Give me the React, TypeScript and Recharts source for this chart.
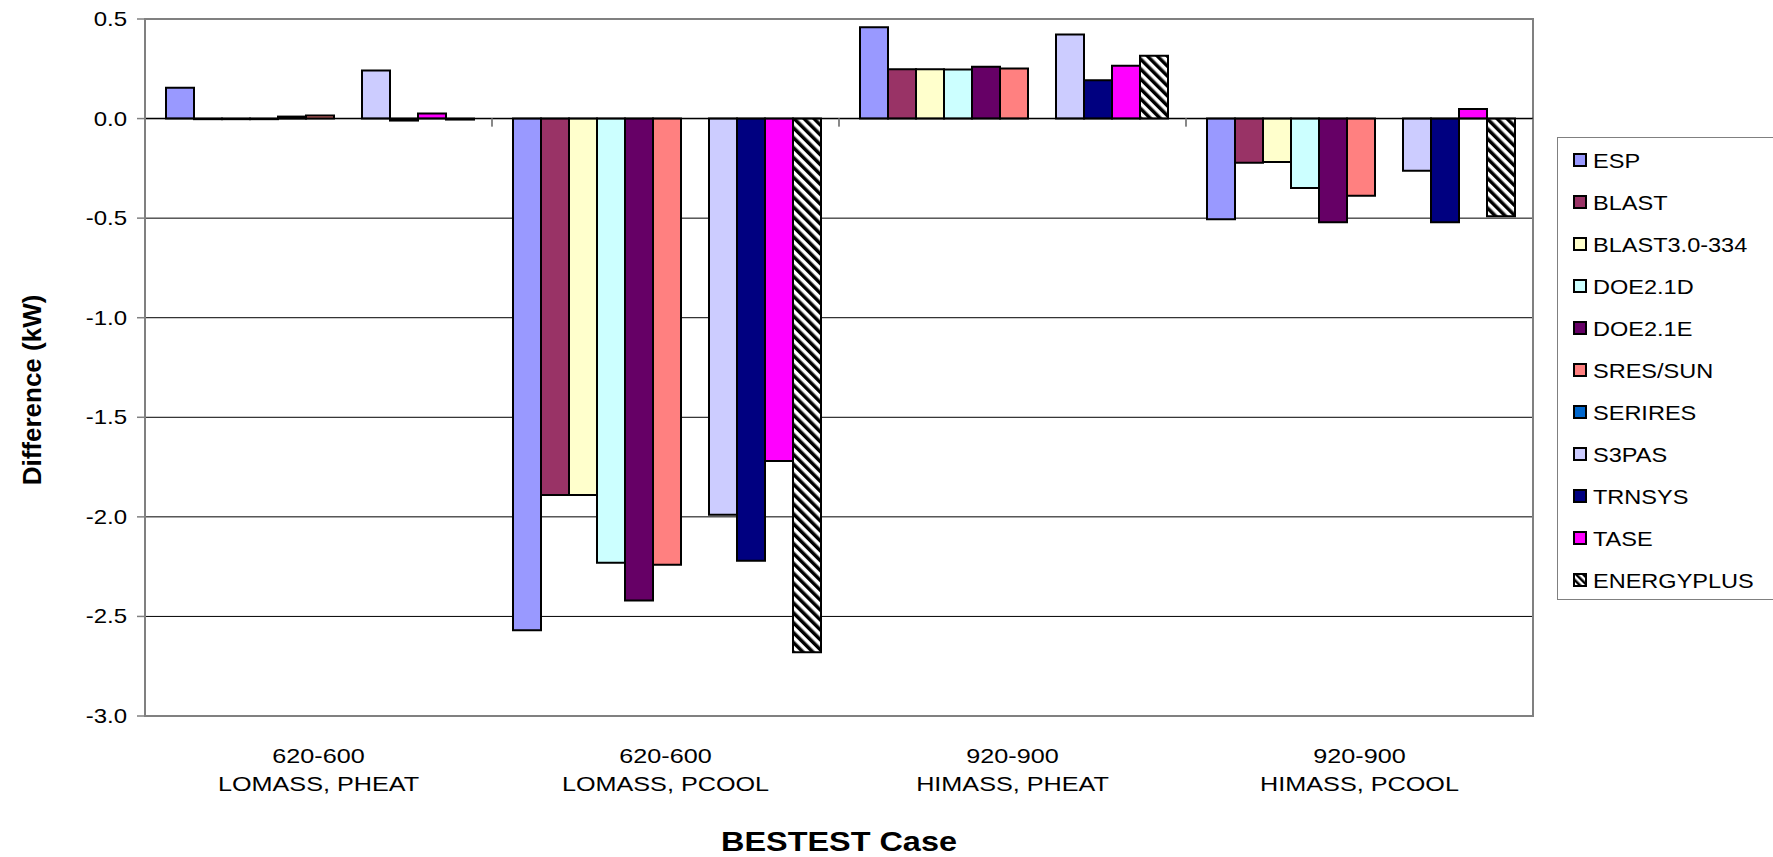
import {
  BarChart,
  Bar,
  XAxis,
  YAxis,
  CartesianGrid,
  ReferenceLine,
  ReferenceArea,
} from 'recharts';

// category labels (two lines each)
const caseLine1 = ['620-600', '620-600', '920-900', '920-900'];
const caseLine2 = ['LOMASS, PHEAT', 'LOMASS, PCOOL', 'HIMASS, PHEAT', 'HIMASS, PCOOL'];

// differences in kW, one value per case
const esp = [0.155, -2.57, 0.458, -0.505];
const blast = [-0.003, -1.89, 0.248, -0.222];
const blast3 = [-0.003, -1.89, 0.248, -0.218];
const doe21d = [-0.003, -2.23, 0.246, -0.349];
const doe21e = [0.01, -2.42, 0.26, -0.52];
const sresSun = [0.015, -2.24, 0.251, -0.388];
const serires: (number | null)[] = [null, null, null, null];
const s3pas = [0.241, -1.99, 0.422, -0.262];
const trnsys = [-0.01, -2.22, 0.193, -0.52];
const tase = [0.025, -1.72, 0.265, 0.048];
const energyplus = [-0.005, -2.68, 0.315, -0.49];

const yTicks = [0.5, 0, -0.5, -1, -1.5, -2, -2.5, -3];

const series = [
  { key: 'ESP', values: esp, color: '#9999FF' },
  { key: 'BLAST', values: blast, color: '#993366' },
  { key: 'BLAST3.0-334', values: blast3, color: '#FFFFCC' },
  { key: 'DOE2.1D', values: doe21d, color: '#CCFFFF' },
  { key: 'DOE2.1E', values: doe21e, color: '#660066' },
  { key: 'SRES/SUN', values: sresSun, color: '#FF8080' },
  { key: 'SERIRES', values: serires, color: '#0066CC' },
  { key: 'S3PAS', values: s3pas, color: '#CCCCFF' },
  { key: 'TRNSYS', values: trnsys, color: '#000080' },
  { key: 'TASE', values: tase, color: '#FF00FF' },
  { key: 'ENERGYPLUS', values: energyplus, color: 'url(#hatch)' },
];

const data = caseLine1.map((l1, i) => {
  const row: Record<string, any> = { name: `${l1} ${caseLine2[i]}` };
  series.forEach((s) => {
    row[s.key] = s.values[i];
  });
  return row;
});

const W = 1773;
const H = 857;
const PLOT_LEFT = 145;
const PLOT_TOP = 19;
const PLOT_RIGHT = 1533;
const PLOT_BOTTOM = 716;
const Y_MAX = 0.5;
const Y_MIN = -3;
const FONT = "'Liberation Sans', Arial, sans-serif";
// the source text is a bit wider than plain Arial
const STRETCH = 1.2;

const band = (PLOT_RIGHT - PLOT_LEFT) / caseLine1.length;
const zeroY = PLOT_TOP + (Y_MAX / (Y_MAX - Y_MIN)) * (PLOT_BOTTOM - PLOT_TOP);

function WideText({ x, y, size, anchor = 'middle', bold = false, children }: any) {
  return (
    <text
      transform={`translate(${x},${y}) scale(${STRETCH},1)`}
      x={0}
      y={0}
      textAnchor={anchor}
      fontSize={size}
      fontWeight={bold ? 'bold' : 'normal'}
      fontFamily={FONT}
      fill="#000"
    >
      {children}
    </text>
  );
}

function CaseTick(props: any) {
  const { x, payload } = props;
  const i = payload.index;
  return (
    <g>
      {/* small category separators hanging off the zero line */}
      {i > 0 && (
        <line x1={x - band / 2} x2={x - band / 2} y1={zeroY} y2={zeroY + 8} stroke="#808080" strokeWidth={1.5} />
      )}
      <line x1={x + band / 2} x2={x + band / 2} y1={zeroY} y2={zeroY + 8} stroke="#808080" strokeWidth={1.5} />
      <WideText x={x} y={PLOT_BOTTOM + 47} size={21}>
        {caseLine1[i]}
      </WideText>
      <WideText x={x} y={PLOT_BOTTOM + 75} size={21}>
        {caseLine2[i]}
      </WideText>
    </g>
  );
}

function ValueTick(props: any) {
  const { x, y, payload } = props;
  return (
    <WideText x={x} y={y + 7} size={20} anchor="end">
      {Number(payload.value).toFixed(1)}
    </WideText>
  );
}

function Swatch({ color }: { color: string }) {
  return (
    <svg width={14} height={14} style={{ display: 'block', flex: 'none' }}>
      <defs>
        <pattern id="hatchSmall" width={5} height={5} patternUnits="userSpaceOnUse" patternTransform="rotate(-45)">
          <rect width={5} height={5} fill="#fff" />
          <rect width={2.5} height={5} fill="#000" />
        </pattern>
      </defs>
      <rect
        x={1}
        y={1}
        width={12}
        height={12}
        fill={color === 'url(#hatch)' ? 'url(#hatchSmall)' : color}
        stroke="#000"
        strokeWidth={2}
      />
    </svg>
  );
}

export default function App() {
  const titleY = 390;
  return (
    <div style={{ position: 'absolute', left: 0, top: 0, width: W, height: H, background: '#fff', overflow: 'hidden' }}>
      <BarChart
        width={W}
        height={H}
        data={data}
        margin={{ top: PLOT_TOP, right: W - PLOT_RIGHT, bottom: 11, left: 0 }}
        barCategoryGap={21}
        barGap={0}
      >
        <defs>
          <pattern id="hatch" width={7} height={7} patternUnits="userSpaceOnUse" patternTransform="rotate(-45)">
            <rect width={7} height={7} fill="#fff" />
            <rect width={3.5} height={7} fill="#000" />
          </pattern>
        </defs>
        <CartesianGrid vertical={false} stroke="#000" strokeWidth={1} />
        <XAxis
          dataKey="name"
          height={130}
          tickLine={false}
          axisLine={{ stroke: '#808080', strokeWidth: 2 }}
          tick={<CaseTick />}
          interval={0}
          label={({ viewBox }: any) => (
            <WideText x={viewBox.x + viewBox.width / 2} y={851} size={27} bold>
              BESTEST Case
            </WideText>
          )}
        />
        <YAxis
          type="number"
          domain={[Y_MIN, Y_MAX]}
          ticks={yTicks}
          allowDataOverflow
          width={PLOT_LEFT}
          tick={<ValueTick />}
          tickSize={8}
          tickMargin={10}
          tickLine={{ stroke: '#808080', strokeWidth: 1.5 }}
          axisLine={{ stroke: '#808080', strokeWidth: 2 }}
          label={() => (
            <text
              x={32}
              y={titleY}
              transform={`rotate(-90, 32, ${titleY})`}
              textAnchor="middle"
              dominantBaseline="central"
              fontSize={26}
              fontWeight="bold"
              fontFamily={FONT}
              fill="#000"
            >
              Difference (kW)
            </text>
          )}
        />
        <ReferenceArea y1={Y_MIN} y2={Y_MAX} fill="none" fillOpacity={0} stroke="#808080" strokeWidth={2} ifOverflow="visible" />
        <ReferenceLine y={0} stroke="#000" strokeWidth={1.5} />
        {series.map((s) => (
          <Bar
            key={s.key}
            dataKey={s.key}
            fill={s.color}
            stroke="#000"
            strokeWidth={2}
            isAnimationActive={false}
          />
        ))}
      </BarChart>

      <div
        style={{
          position: 'absolute',
          left: 1557,
          top: 137,
          width: 230,
          height: 463,
          boxSizing: 'border-box',
          border: '1px solid #808080',
          paddingTop: 1,
          fontFamily: FONT,
          fontSize: 21,
          color: '#000',
          background: '#fff',
        }}
      >
        {series.map((s) => (
          <div key={s.key} style={{ height: 42, display: 'flex', alignItems: 'center', paddingLeft: 15 }}>
            <Swatch color={s.color} />
            <span
              style={{
                marginLeft: 6,
                lineHeight: 1,
                display: 'inline-block',
                whiteSpace: 'nowrap',
                transform: 'scaleX(1.12)',
                transformOrigin: 'left center',
              }}
            >
              {s.key}
            </span>
          </div>
        ))}
      </div>
    </div>
  );
}
